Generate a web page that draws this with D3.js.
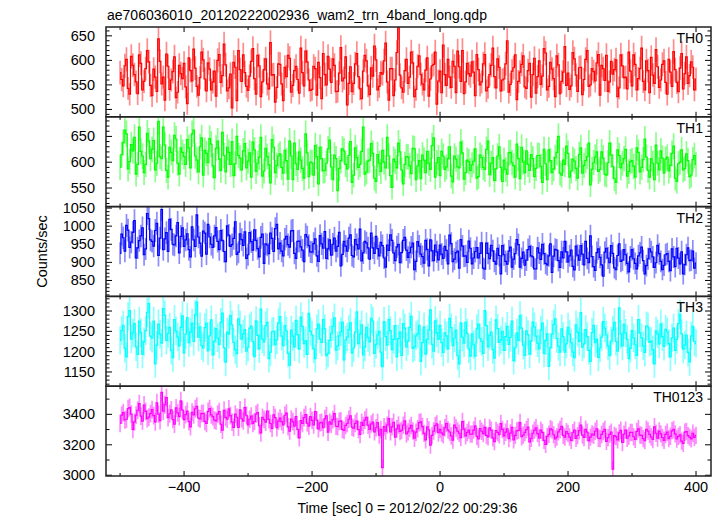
<!DOCTYPE html>
<html><head><meta charset="utf-8">
<script src="https://cdn.jsdelivr.net/npm/d3@7"></script>
<style>body{margin:0;background:#fff}text{font-family:"Liberation Sans",Arial,Helvetica,sans-serif;fill:#000}</style>
</head><body><svg id="c" width="723" height="516"></svg>
<script>
const titleText = "ae706036010_20120222002936_wam2_trn_4band_long.qdp";
const xLabel = "Time [sec] 0 = 2012/02/22 00:29:36";
const yLabel = "Counts/sec";
const bandNames = ["TH0", "TH1", "TH2", "TH3", "TH0123"];
// bins: "on" arrays at binStart + k*binStep, "mid" arrays at binStart + binStep/2 + k*binStep
const binStart = -500, binStep = 5;

const th0 = [575,548,602,531,590,556,611,540,583,597,
528,566,644,552,519,588,560,607,535,573,
594,512,579,623,547,565,601,538,582,556,
527,612,569,591,544,503,586,620,557,575,
539,598,563,610,526,581,552,636,571,545,
592,518,567,604,549,588,533,575,619,560,
541,583,596,522,571,608,555,590,537,626,
564,509,587,553,614,542,578,599,530,568,
601,547,572,635,519,583,560,668,544,579,
553,617,526,588,571,540,605,562,592,511,
578,631,549,566,598,534,587,620,556,573,
597,528,581,556,612,545,590,567,603,538,
562,640,551,585,520,576,609,543,594,571,
533,599,568,615,547,582,526,591,557,628,
574,548,603,537,586,561,620,550,577,595,
529,583,610,556,572,601,544,589,566,617,
548,592,563,625,540,579,606,553,587,560,
599,531,576,618,555,584,542,607,569,586,562];
const th0Mid = [561,589,543,608,571,532,594,557,620,549,
582,537,598,566,613,541,577,524,590,563,
546,605,558,584,529,617,562,595,540,578,
600,555,633,538,572,596,518,581,611,547,
568,624,531,589,556,603,542,570,515,593,
552,586,610,535,579,561,625,548,597,539,
588,529,565,614,550,582,603,536,574,558,
607,553,536,593,567,522,610,548,585,629,
540,575,599,556,583,528,616,570,535,602,
566,595,541,609,552,580,527,589,617,558,
534,571,602,545,588,619,557,532,594,568,
576,612,550,593,538,571,625,544,586,560,
593,535,578,611,557,592,546,579,525,604,
567,551,624,540,596,563,609,532,576,549,
541,616,570,585,530,602,547,583,558,612,
590,559,537,598,581,526,611,565,542,578,
611,540,583,557,599,534,570,622,545,592,
555,602,547,581,536,614,573,553,597,540];

const th1 = [590,638,655,601,622,577,668,612,596,641,
625,585,679,607,633,571,619,652,598,628,
611,644,589,662,604,630,575,617,646,593,
627,606,658,581,619,640,597,613,585,636,
602,571,624,598,648,583,611,560,629,594,
616,579,603,641,566,597,620,588,655,572,
599,632,558,607,584,626,591,614,545,603,
622,587,640,575,609,596,668,581,604,617,
563,598,623,589,612,551,601,637,585,596,
610,578,626,593,568,604,621,586,647,599,
574,612,591,630,562,606,589,618,580,601,
595,626,572,609,586,641,598,565,612,590,
604,577,619,593,635,568,600,622,584,607,
588,613,561,597,624,580,609,650,575,596,
617,583,602,569,628,594,611,556,599,620,
586,608,575,637,592,561,613,598,625,582,
603,571,619,590,645,584,607,566,598,622,
579,610,594,631,563,600,585,616,572,605,596];
const th1Mid = [615,662,587,634,648,596,621,580,656,607,
642,598,611,668,584,629,603,645,577,619,
596,628,655,612,581,647,623,599,635,570,
641,584,613,629,596,574,650,608,622,589,
618,639,582,610,573,627,595,644,580,612,
590,623,567,612,637,586,604,569,618,600,
575,611,629,583,598,643,566,607,588,626,
596,613,561,628,590,621,577,602,636,569,
615,582,600,648,574,606,589,620,558,611,
593,627,566,603,614,580,598,632,571,609,
621,586,607,573,612,591,639,567,604,584,
602,569,614,590,625,576,609,587,630,563,
586,618,599,571,607,629,580,596,615,572,
613,592,625,566,603,587,619,579,604,631,
571,606,588,615,579,603,637,586,610,582,
620,577,599,614,568,624,589,607,573,601,
592,628,581,605,610,571,598,633,585,608,
606,583,617,569,597,624,588,603,575,613];

const th2 = [925,968,1002,941,983,912,960,995,937,1021,
958,988,919,1046,965,930,991,948,1010,972,
944,979,915,962,1031,953,986,923,970,941,
996,935,961,902,975,949,1012,928,963,984,
921,957,990,938,969,897,948,981,930,1005,
953,918,972,942,988,911,959,934,977,946,
928,965,903,951,985,937,920,967,944,890,
958,931,976,915,949,992,926,954,909,940,
972,918,946,887,933,961,905,950,927,969,
914,942,880,957,923,898,936,962,905,929,
948,911,933,975,902,927,884,945,918,959,
896,930,912,954,881,925,947,903,939,868,
921,895,942,909,963,887,928,906,944,915,
882,926,950,897,918,872,936,905,929,958,
901,934,879,920,946,893,911,973,888,927,
914,862,939,899,925,880,951,906,921,874,
935,897,918,942,868,910,929,886,947,903,
892,924,877,915,939,896,868,921,905,931,898];
const th2Mid = [978,931,989,956,1015,940,973,921,1035,962,
945,1008,967,935,982,1019,950,973,926,995,
962,935,998,944,970,917,981,1005,950,973,
958,988,930,1001,944,966,922,979,947,911,
982,934,961,915,978,951,924,966,993,937,
931,964,949,987,925,958,943,902,970,929,
952,918,974,939,911,962,950,931,983,922,
945,967,919,963,937,904,958,940,981,925,
938,955,912,948,976,926,943,899,961,934,
927,953,903,945,916,961,890,932,948,907,
923,944,896,952,909,931,963,917,900,939,
912,941,925,884,953,910,932,895,919,946,
903,931,887,924,949,911,892,935,918,882,
940,908,924,893,951,917,934,886,912,929,
918,889,945,906,923,958,899,916,878,937,
893,928,912,946,885,919,903,935,897,915,
910,882,926,905,891,937,915,899,924,880,
921,903,937,888,912,929,894,940,906,884];

const th3 = [1228,1265,1187,1301,1246,1212,1275,1194,1252,1318,
1233,1170,1268,1221,1290,1245,1203,1279,1236,1260,
1197,1284,1248,1225,1322,1261,1209,1270,1239,1192,
1257,1218,1295,1174,1243,1266,1205,1281,1231,1254,
1211,1263,1188,1240,1305,1224,1272,1199,1250,1229,
1286,1215,1251,1167,1238,1277,1206,1262,1227,1294,
1241,1183,1268,1223,1256,1196,1245,1283,1214,1249,
1180,1236,1271,1209,1298,1243,1192,1260,1224,1275,
1218,1250,1163,1237,1279,1205,1264,1232,1191,1258,
1226,1287,1212,1244,1176,1261,1230,1303,1201,1247,
1265,1198,1239,1282,1215,1253,1170,1236,1272,1207,
1243,1189,1268,1225,1301,1212,1248,1184,1257,1229,
1203,1262,1235,1178,1246,1289,1216,1251,1194,1273,
1238,1207,1270,1227,1164,1243,1281,1213,1256,1199,
1260,1222,1185,1248,1296,1219,1237,1176,1265,1231,
1209,1274,1241,1190,1253,1225,1308,1214,1246,1183,
1252,1217,1279,1234,1198,1261,1226,1170,1244,1268,
1213,1249,1187,1258,1230,1292,1206,1241,1175,1262,1220];
const th3Mid = [1252,1208,1286,1231,1269,1193,1247,1224,1297,1238,
1275,1216,1243,1306,1228,1260,1185,1251,1214,1288,
1243,1222,1270,1291,1236,1215,1259,1202,1278,1226,
1234,1272,1210,1248,1289,1223,1195,1266,1244,1201,
1258,1225,1276,1207,1231,1264,1183,1249,1217,1271,
1238,1264,1196,1253,1212,1242,1285,1220,1193,1250,
1207,1256,1231,1279,1190,1228,1262,1204,1239,1273,
1229,1254,1197,1248,1220,1266,1211,1235,1282,1196,
1241,1199,1274,1216,1252,1230,1187,1248,1269,1212,
1260,1208,1239,1265,1222,1194,1253,1218,1276,1231,
1222,1246,1207,1259,1233,1190,1271,1221,1245,1189,
1217,1256,1233,1196,1264,1240,1205,1278,1223,1250,
1237,1218,1275,1209,1228,1258,1191,1242,1226,1261,
1221,1253,1196,1244,1210,1267,1232,1199,1237,1219,
1243,1199,1266,1225,1211,1254,1203,1247,1222,1186,
1236,1258,1214,1226,1272,1201,1243,1267,1230,1208,
1234,1191,1246,1214,1263,1223,1205,1251,1219,1237,
1255,1220,1234,1203,1269,1244,1216,1198,1239,1225];

const th0123 = [3340,3412,3368,3445,3301,3395,3470,3356,3419,3382,
3431,3350,3402,3545,3463,3378,3429,3336,3410,3489,
3365,3421,3318,3397,3452,3370,3406,3341,3438,3385,
3357,3418,3296,3380,3436,3349,3402,3315,3371,3445,
3330,3389,3353,3412,3278,3366,3421,3340,3397,3312,
3375,3331,3408,3290,3352,3386,3246,3340,3398,3322,
3361,3418,3305,3348,3372,3283,3336,3405,3319,3357,
3294,3340,3391,3310,3355,3268,3327,3380,3301,3349,
3312,3264,3050,3290,3372,3318,3251,3330,3296,3358,
3285,3327,3243,3306,3350,3275,3318,3198,3290,3337,
3302,3265,3340,3284,3231,3311,3276,3352,3259,3297,
3270,3324,3238,3289,3315,3252,3296,3221,3281,3339,
3258,3305,3277,3232,3291,3346,3264,3300,3219,3276,
3312,3245,3281,3203,3269,3298,3238,3285,3322,3250,
3274,3229,3296,3261,3330,3248,3283,3250,3263,3305,
3240,3287,3223,3269,3040,3254,3278,3215,3296,3258,
3281,3236,3305,3262,3227,3290,3251,3318,3244,3272,
3229,3283,3256,3301,3238,3265,3209,3287,3250,3276,3262];
const th0123Mid = [3395,3363,3438,3402,3350,3427,3388,3461,3372,3405,
3392,3476,3358,3421,3510,3404,3366,3442,3385,3428,
3398,3352,3414,3437,3376,3405,3354,3419,3396,3362,
3401,3335,3427,3368,3392,3314,3381,3430,3356,3394,
3368,3341,3402,3325,3381,3349,3367,3308,3378,3355,
3352,3394,3318,3369,3322,3301,3359,3378,3343,3385,
3330,3362,3344,3312,3391,3350,3365,3322,3354,3301,
3327,3368,3316,3341,3300,3348,3362,3329,3337,3285,
3346,3301,3319,3330,3285,3348,3305,3288,3329,3271,
3309,3290,3283,3346,3320,3232,3298,3262,3326,3279,
3278,3312,3297,3258,3329,3290,3247,3303,3281,3270,
3297,3255,3306,3274,3262,3311,3245,3294,3266,3301,
3283,3241,3314,3262,3295,3253,3281,3317,3243,3296,
3274,3296,3229,3255,3305,3266,3251,3301,3262,3286,
3251,3279,3242,3293,3264,3302,3226,3271,3289,3243,
3268,3301,3247,3283,3261,3232,3295,3270,3243,3281,
3253,3288,3264,3241,3302,3269,3235,3276,3290,3248,
3268,3241,3292,3272,3255,3224,3283,3260,3239,3248];

const seriesOn = [th0, th1, th2, th3, th0123];
const seriesMid = [th0Mid, th1Mid, th2Mid, th3Mid, th0123Mid];
const yDomains = [[485,668],[514,688],[806,1054],[1115,1336],[2995,3585]];
const yLabelStep = [50,50,50,50,200];
const yMinorStep = [10,10,10,10,100];
const xMajorTicks = [-400,-200,0,200,400];
const xMinorTicks = [-500,-300,-100,100,300];
const colors = ["#ff0000","#00ff00","#0000ff","#00ffff","#ff00ff"];

const svg = d3.select("#c");
const L = 106, R = 711, T = 27, B = 476;
const nP = bandNames.length, pH = (B - T) / nP;
const x = d3.scaleLinear().domain([-522, 423.4]).range([L, R]);

svg.append("text").attr("x", 107).attr("y", 20).attr("font-size", 14).text(titleText);
svg.append("text").attr("x", (L + R) / 2 - 1).attr("y", 513).attr("text-anchor", "middle").attr("font-size", 14).text(xLabel);
svg.append("text").attr("transform", `translate(47,${(T + B) / 2}) rotate(-90)`).attr("text-anchor", "middle").attr("font-size", 14.5).text(yLabel);

const defs = svg.append("defs");
seriesOn.forEach((vals, i) => {
  const top = T + i * pH, bot = top + pH;
  const y = d3.scaleLinear().domain(yDomains[i]).range([bot, top]);
  defs.append("clipPath").attr("id", "cp" + i).append("rect").attr("x", L).attr("y", top).attr("width", R - L).attr("height", pH);
  const g = svg.append("g");
  const dg = g.append("g").attr("clip-path", `url(#cp${i})`);
  const pts = vals.map((v, k) => ({t: binStart + k * binStep, v}))
    .concat(seriesMid[i].map((v, k) => ({t: binStart + binStep / 2 + k * binStep, v})))
    .sort((a, b) => a.t - b.t);
  pts.forEach(d => d.e = Math.sqrt(d.v));
  dg.selectAll("line.err").data(pts).join("line")
    .attr("x1", d => x(d.t)).attr("x2", d => x(d.t))
    .attr("y1", d => y(d.v - d.e)).attr("y2", d => y(d.v + d.e))
    .attr("stroke", colors[i]).attr("stroke-opacity", 0.45).attr("stroke-width", 1.7);
  dg.append("path").datum(pts)
    .attr("d", d3.line().x(d => x(d.t)).y(d => y(d.v)).curve(d3.curveStep))
    .attr("fill", "none").attr("stroke", colors[i]).attr("stroke-width", 1.2);

  const [d0, d1] = yDomains[i];
  const minor = d3.range(Math.ceil(d0 / yMinorStep[i]) * yMinorStep[i], d1 + 0.001, yMinorStep[i]);
  minor.forEach(v => {
    const major = Math.abs(v / yLabelStep[i] - Math.round(v / yLabelStep[i])) < 1e-6;
    const len = major ? 6 : 3.5;
    g.append("line").attr("x1", L).attr("x2", L + len).attr("y1", y(v)).attr("y2", y(v)).attr("stroke", "#000").attr("stroke-width", 1);
    g.append("line").attr("x1", R).attr("x2", R - len).attr("y1", y(v)).attr("y2", y(v)).attr("stroke", "#000").attr("stroke-width", 1);
    if (major) {
      g.append("text").attr("x", L - 11).attr("y", y(v) + 5).attr("text-anchor", "end").attr("font-size", 14.5).text(v);
    }
  });
  xMajorTicks.concat(xMinorTicks).forEach(t => {
    const len = xMajorTicks.includes(t) ? 5 : 3;
    g.append("line").attr("x1", x(t)).attr("x2", x(t)).attr("y1", top).attr("y2", top + len).attr("stroke", "#000").attr("stroke-width", 1);
    g.append("line").attr("x1", x(t)).attr("x2", x(t)).attr("y1", bot).attr("y2", bot - len).attr("stroke", "#000").attr("stroke-width", 1);
  });
  g.append("rect").attr("x", L).attr("y", top).attr("width", R - L).attr("height", pH).attr("fill", "none").attr("stroke", "#222").attr("stroke-width", 1.5);
  g.append("text").attr("x", 703).attr("y", top + 16).attr("text-anchor", "end").attr("font-size", 14).text(bandNames[i]);
});
xMajorTicks.forEach(t => {
  svg.append("text").attr("x", x(t)).attr("y", 492).attr("text-anchor", "middle").attr("font-size", 14.5).text(t < 0 ? "\u2212" + (-t) : t);
});
</script></body></html>
